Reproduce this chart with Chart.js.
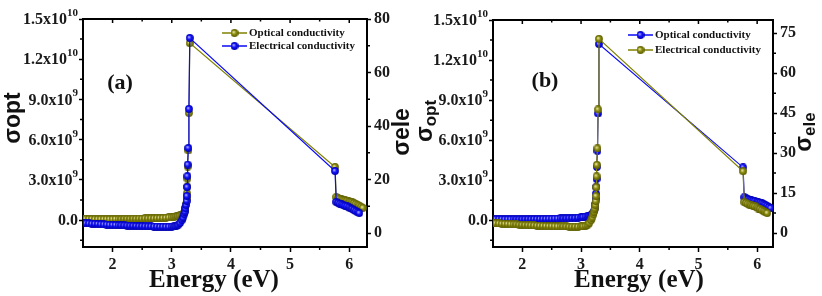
<!DOCTYPE html>
<html>
<head>
<meta charset="utf-8">
<script src="https://cdn.jsdelivr.net/npm/chart.js@4.4.0/dist/chart.umd.min.js"></script>
<style>
  body { margin: 0; background: #fff; }
  #wrap { position: relative; width: 822px; height: 296px; }
  canvas { position: absolute; top: 0; }
</style>
</head>
<body>
<div id="wrap">
  <canvas id="panelA" width="411" height="296" style="left:0"></canvas>
  <canvas id="panelB" width="411" height="296" style="left:411px"></canvas>
</div>
<script>
// photon energy (eV)
const energy = [
  1.50, 1.55, 1.60, 1.65, 1.70, 1.75, 1.80, 1.85, 1.90, 1.95,
  2.00, 2.05, 2.10, 2.15, 2.20, 2.25, 2.30, 2.35, 2.40, 2.45,
  2.50, 2.55, 2.60, 2.65, 2.70, 2.75, 2.80, 2.85, 2.90, 2.95,
  3.00, 3.04, 3.08, 3.11, 3.14, 3.17, 3.19, 3.21, 3.22, 3.23,
  3.24, 3.25, 3.255, 3.26, 3.265, 3.27, 3.28, 3.29, 3.305,
  5.76, 5.78, 5.81, 5.84, 5.87, 5.90, 5.93, 5.96, 5.99, 6.02,
  6.05, 6.08, 6.11, 6.14, 6.17, 6.20, 6.23
];
// optical conductivity (left axis)
const opticalCond = [
  0.10e9, 0.10e9, 0.09e9, 0.09e9, 0.08e9, 0.08e9, 0.08e9, 0.08e9, 0.08e9, 0.08e9,
  0.08e9, 0.09e9, 0.09e9, 0.09e9, 0.10e9, 0.10e9, 0.10e9, 0.11e9, 0.11e9, 0.12e9,
  0.12e9, 0.13e9, 0.13e9, 0.14e9, 0.14e9, 0.15e9, 0.16e9, 0.17e9, 0.18e9, 0.20e9,
  0.22e9, 0.25e9, 0.28e9, 0.30e9, 0.35e9, 0.40e9, 0.45e9, 0.55e9, 0.70e9, 0.90e9,
  1.2e9, 1.6e9, 2.0e9, 2.5e9, 3.1e9, 4.0e9, 5.2e9, 8.0e9, 13.2e9,
  3.96e9, 1.72e9, 1.65e9, 1.60e9, 1.55e9, 1.50e9, 1.47e9, 1.45e9, 1.40e9, 1.37e9,
  1.33e9, 1.28e9, 1.22e9, 1.15e9, 1.08e9, 1.00e9, 0.92e9
];
// electrical conductivity (right axis)
const electricalCond = [
  3.70, 3.65, 3.60, 3.50, 3.45, 3.40, 3.30, 3.25, 3.20, 3.10,
  3.05, 3.00, 2.95, 2.90, 2.85, 2.80, 2.75, 2.70, 2.65, 2.60,
  2.60, 2.55, 2.50, 2.50, 2.45, 2.45, 2.40, 2.40, 2.40, 2.40,
  2.45, 2.5, 2.7, 3.1, 3.8, 4.8, 5.8, 7.0, 8.0, 9.2,
  10.5, 12.0, 13.9, 17.2, 21.3, 25.6, 31.8, 46.4, 72.9,
  23.2, 11.6, 11.3, 11.0, 10.7, 10.4, 10.2, 10.0, 9.6, 9.2,
  9.0, 8.6, 8.2, 7.8, 7.5, null, null
];

// axis ticks and labels
const energyTicks = [2, 3, 4, 5, 6];
const opticalTicks = [0, 3e9, 6e9, 9e9, 1.2e10, 1.5e10];
const opticalTickMantissa = ['0.0', '3.0x10', '6.0x10', '9.0x10', '1.2x10', '1.5x10'];
const opticalTickExponent = ['', '9', '9', '9', '10', '10'];
const electricalTicksA = [0, 20, 40, 60, 80];
const electricalTicksB = [0, 15, 30, 45, 60, 75];

const OLIVE = 'rgb(128,128,0)';
const BLUE = 'rgb(10,10,245)';

function makeBall(light, base, dark) {
  const c = document.createElement('canvas');
  c.width = 8; c.height = 8;
  const g = c.getContext('2d');
  const grad = g.createRadialGradient(3, 3, 0.3, 4, 4, 4);
  grad.addColorStop(0, light);
  grad.addColorStop(0.45, base);
  grad.addColorStop(1, dark);
  g.fillStyle = grad;
  g.beginPath(); g.arc(4, 4, 3.9, 0, Math.PI * 2); g.fill();
  return c;
}
const oliveBall = makeBall('#e8e8a8', '#8c8c10', '#5a5a00');
const blueBall = makeBall('#b0b0ff', '#1414ff', '#0000a8');

function findMajor(list, v) {
  return list.findIndex(m => Math.abs(m - v) < 1e-6 * Math.max(1, Math.abs(m)));
}
// majors plus one minor tick halfway between, limited to [lo, hi]
function withMinor(majors, lo, hi) {
  const half = (majors[1] - majors[0]) / 2, start = majors[0];
  const n0 = Math.ceil((lo - start) / half - 1e-9), n1 = Math.floor((hi - start) / half + 1e-9);
  const out = [];
  for (let n = n0; n <= n1; n++) out.push({ value: start + n * half });
  return out;
}

const serif = 'Liberation Serif';
const sans = 'Liberation Sans';

function drawTitle(ctx, cx, cy, main, sub, subscript) {
  ctx.save();
  ctx.translate(cx, cy);
  ctx.rotate(-Math.PI / 2);
  ctx.fillStyle = '#111';
  ctx.textBaseline = 'alphabetic';
  ctx.textAlign = 'left';
  const big = 'bold 23px ' + sans;
  const small = subscript ? 'bold 17px ' + sans : big;
  ctx.font = big;
  const w1 = ctx.measureText(main).width;
  ctx.font = small;
  const w2 = ctx.measureText(sub).width;
  const x0 = -(w1 + w2) / 2;
  ctx.font = big;
  ctx.fillText(main, x0, 7);
  ctx.font = small;
  ctx.fillText(sub, x0 + w1, subscript ? 11 : 7);
  ctx.restore();
}

function makePanel(id, cfg) {
  const decor = {
    id: 'decor',
    afterDraw(chart) {
      const ctx = chart.ctx, a = chart.chartArea;
      const sx = chart.scales.x, sl = chart.scales.yOpt, sr = chart.scales.yEle;
      ctx.save();
      ctx.strokeStyle = '#000';
      ctx.lineWidth = 2;
      ctx.beginPath();
      ctx.moveTo(a.left - 1, a.top);
      ctx.lineTo(a.right + 1, a.top);
      ctx.stroke();
      ctx.lineWidth = 1.5;
      ctx.beginPath();
      sx.ticks.forEach(t => {
        const px = sx.getPixelForValue(t.value);
        if (px <= a.left + 2 || px >= a.right - 2) return;
        const major = findMajor(energyTicks, t.value) >= 0;
        ctx.moveTo(px, a.top);
        ctx.lineTo(px, a.top + (major ? 4 : 2.5));
        if (!major) { ctx.moveTo(px, a.bottom); ctx.lineTo(px, a.bottom + 3); }
      });
      sl.ticks.forEach(t => {
        if (findMajor(opticalTicks, t.value) >= 0) return;
        const py = sl.getPixelForValue(t.value);
        ctx.moveTo(a.left, py); ctx.lineTo(a.left - 3, py);
      });
      sr.ticks.forEach(t => {
        if (findMajor(cfg.eleTicks, t.value) >= 0) return;
        const py = sr.getPixelForValue(t.value);
        ctx.moveTo(a.right, py); ctx.lineTo(a.right + 3, py);
      });
      ctx.stroke();

      // left tick labels with raised exponent
      ctx.fillStyle = '#1a1a1a';
      ctx.textAlign = 'right';
      ctx.textBaseline = 'middle';
      opticalTicks.forEach((v, i) => {
        const py = sl.getPixelForValue(v);
        let xr = a.left - 5;
        if (opticalTickExponent[i]) {
          ctx.font = 'bold 11px ' + serif;
          ctx.fillText(opticalTickExponent[i], xr, py - 6);
          xr -= ctx.measureText(opticalTickExponent[i]).width;
        }
        ctx.font = 'bold 16px ' + serif;
        ctx.fillText(opticalTickMantissa[i], xr, py + 1);
      });

      // axis titles
      ctx.fillStyle = '#111';
      ctx.font = 'bold 25px ' + serif;
      ctx.textAlign = 'center';
      ctx.textBaseline = 'middle';
      ctx.fillText('Energy (eV)', cfg.xTitleX, 281);
      drawTitle(ctx, cfg.leftTitle[0], cfg.leftTitle[1], 'σ', 'opt', cfg.subscript);
      drawTitle(ctx, cfg.rightTitle[0], cfg.rightTitle[1], 'σ', 'ele', cfg.subscript);

      // panel letter
      ctx.font = 'bold 22px ' + serif;
      ctx.fillText(cfg.letter, cfg.letterPos[0], cfg.letterPos[1]);

      // legend
      ctx.font = 'bold 11px ' + serif;
      ctx.textAlign = 'left';
      cfg.legend.forEach(item => {
        const lx = cfg.legendX, ly = item.y;
        ctx.strokeStyle = item.color;
        ctx.lineWidth = 1.5;
        ctx.beginPath(); ctx.moveTo(lx, ly); ctx.lineTo(lx + 25, ly); ctx.stroke();
        ctx.drawImage(item.ball, lx + 12.5 - 4, ly - 4);
        ctx.fillStyle = '#111';
        ctx.fillText(item.label, lx + 27, ly + 0.5);
      });
      ctx.restore();
    }
  };

  const optData = energy.map((e, i) => ({ x: e, y: opticalCond[i] }));
  const eleData = energy.map((e, i) => ({ x: e, y: electricalCond[i] }));

  const tickFont = { family: serif, weight: 'bold', size: 16 };

  return new Chart(document.getElementById(id), {
    type: 'line',
    data: {
      datasets: [
        {
          label: 'Electrical conductivity',
          data: eleData,
          yAxisID: 'yEle',
          borderColor: cfg.eleColor,
          borderWidth: 1.2,
          pointStyle: cfg.eleBall,
          pointRadius: 4,
          tension: 0,
        },
        {
          label: 'Optical conductivity',
          data: optData,
          yAxisID: 'yOpt',
          borderColor: cfg.optColor,
          borderWidth: 1.2,
          pointStyle: cfg.optBall,
          pointRadius: 4,
          tension: 0,
        }
      ]
    },
    options: {
      responsive: false,
      animation: false,
      devicePixelRatio: 1,
      layout: { padding: { top: cfg.top, left: 0, right: 0, bottom: 0 } },
      plugins: { legend: { display: false }, tooltip: { enabled: false } },
      scales: {
        x: {
          type: 'linear',
          min: 1.5,
          max: cfg.xMax,
          afterFit: (s) => { s.height = 296 - 247; },
          afterBuildTicks: (s) => { s.ticks = withMinor(energyTicks, 1.5, cfg.xMax); },
          border: { display: true, color: '#000', width: 2 },
          grid: {
            drawOnChartArea: false,
            tickLength: 5,
            tickWidth: 1.5,
            tickColor: (c) => findMajor(energyTicks, c.tick.value) >= 0 ? '#000' : 'rgba(0,0,0,0)',
          },
          ticks: {
            autoSkip: false,
            maxRotation: 0,
            padding: 3,
            color: '#1a1a1a',
            font: tickFont,
            callback: (v) => findMajor(energyTicks, v) >= 0 ? String(v) : '',
          },
        },
        yOpt: {
          type: 'linear',
          position: 'left',
          min: -2e9,
          max: 1.5e10,
          afterFit: (s) => { s.width = cfg.leftWidth; },
          afterBuildTicks: (s) => { s.ticks = withMinor(opticalTicks, -2e9, 1.5e10); },
          border: { display: true, color: '#000', width: 2 },
          grid: {
            drawOnChartArea: false,
            tickLength: 4,
            tickWidth: 1.5,
            tickColor: (c) => findMajor(opticalTicks, c.tick.value) >= 0 ? '#000' : 'rgba(0,0,0,0)',
          },
          ticks: {
            autoSkip: false,
            callback: () => '',
          },
        },
        yEle: {
          type: 'linear',
          position: 'right',
          min: cfg.eleMin,
          max: 80,
          afterFit: (s) => { s.width = cfg.rightWidth; },
          afterBuildTicks: (s) => { s.ticks = withMinor(cfg.eleTicks, cfg.eleMin, 80); },
          border: { display: true, color: '#000', width: 2 },
          grid: {
            drawOnChartArea: false,
            tickLength: 4,
            tickWidth: 1.5,
            tickColor: (c) => findMajor(cfg.eleTicks, c.tick.value) >= 0 ? '#000' : 'rgba(0,0,0,0)',
          },
          ticks: {
            autoSkip: false,
            padding: 3,
            color: '#1a1a1a',
            font: tickFont,
            callback: (v) => findMajor(cfg.eleTicks, v) >= 0 ? String(v) : '',
          },
        },
      },
    },
    plugins: [decor],
  });
}

makePanel('panelA', {
  optColor: OLIVE, eleColor: BLUE, optBall: oliveBall, eleBall: blueBall,
  top: 19, xMax: 6.3, leftWidth: 83, rightWidth: 44,
  eleMin: -5.2, eleTicks: electricalTicksA,
  xTitleX: 214, leftTitle: [13, 118], rightTitle: [402, 132], subscript: false,
  letter: '(a)', letterPos: [120, 83],
  legendX: 222,
  legend: [
    { label: 'Optical conductivity', color: OLIVE, ball: oliveBall, y: 33 },
    { label: 'Electrical conductivity', color: BLUE, ball: blueBall, y: 46 },
  ],
});

makePanel('panelB', {
  optColor: BLUE, eleColor: OLIVE, optBall: blueBall, eleBall: oliveBall,
  top: 20, xMax: 6.27, leftWidth: 82, rightWidth: 49,
  eleMin: -5.25, eleTicks: electricalTicksB,
  xTitleX: 228, leftTitle: [14, 121], rightTitle: [393, 132], subscript: true,
  letter: '(b)', letterPos: [134, 81],
  legendX: 217,
  legend: [
    { label: 'Optical conductivity', color: BLUE, ball: blueBall, y: 35 },
    { label: 'Electrical conductivity', color: OLIVE, ball: oliveBall, y: 50 },
  ],
});
</script>
</body>
</html>
